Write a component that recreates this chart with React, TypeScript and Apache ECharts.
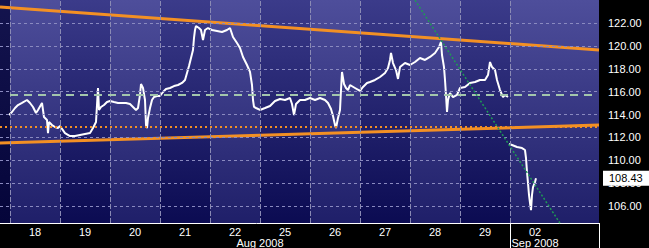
import React, { useEffect, useRef } from "react";
import * as echarts from "echarts";

// ---- axis labels ----
const dayLabels = ["18", "19", "20", "21", "22", "25", "26", "27", "28", "29", "02"];
const monthLabels = ["Aug 2008", "Sep 2008"];
const monthPositions = [5, 10.5];
const priceTicks = [106, 108, 110, 112, 114, 116, 118, 120, 122];
const minorTicks = [105, 107, 109, 111, 113, 115, 117, 119, 121, 123];

// ---- intraday price (time in trading days from 18 Aug open) ----
const tickTime = [
  -0.02, 0.04, 0.1, 0.16, 0.24, 0.34, 0.4, 0.46, 0.52, 0.56, 0.64, 0.68, 0.74, 0.76, 0.78, 0.84, 0.9, 0.96,
  1.0, 1.1, 1.2, 1.3, 1.4, 1.5, 1.6, 1.66, 1.72, 1.76, 1.78, 1.82, 1.88, 1.94,
  2.0, 2.08, 2.16, 2.24, 2.32, 2.4, 2.46, 2.52, 2.56, 2.6, 2.62, 2.66, 2.7, 2.72, 2.74, 2.76, 2.8, 2.84, 2.88, 2.94,
  3.0, 3.06, 3.12, 3.2, 3.28, 3.36, 3.44, 3.5, 3.54, 3.58, 3.62, 3.66, 3.68, 3.7, 3.72, 3.78, 3.82, 3.86, 3.9, 3.96,
  4.04, 4.14, 4.24, 4.34, 4.4, 4.46, 4.54, 4.6, 4.66, 4.74, 4.8, 4.84, 4.86, 4.88, 4.92,
  5.0, 5.1, 5.2, 5.3, 5.4, 5.5, 5.6, 5.64, 5.68, 5.72, 5.8, 5.9,
  6.0, 6.1, 6.2, 6.3, 6.36, 6.42, 6.46, 6.5, 6.52, 6.56, 6.6, 6.62, 6.64, 6.68, 6.72, 6.76, 6.8, 6.9,
  7.0, 7.06, 7.14, 7.2, 7.3, 7.4, 7.5, 7.56, 7.6, 7.62, 7.66, 7.72, 7.76, 7.8, 7.9,
  8.0, 8.1, 8.2, 8.3, 8.4, 8.5, 8.58, 8.62, 8.64, 8.68, 8.7, 8.72, 8.74, 8.76, 8.8, 8.86, 8.94,
  9.0, 9.1, 9.2, 9.3, 9.4, 9.5, 9.56, 9.6, 9.64, 9.7, 9.74, 9.8, 9.86, 9.9, 9.96,
  9.97,
  9.98, 10.04, 10.14, 10.24, 10.3, 10.32, 10.34, 10.36, 10.38, 10.4, 10.42, 10.44, 10.46, 10.5, 10.52,
];
const tickPrice: (number | null)[] = [
  113.96, 114.22, 114.57, 114.83, 115.01, 115.27, 115.01, 114.66, 114.13, 114.4, 115.01, 113.78, 113.52, 112.38, 113.35, 113.08, 112.91, 112.82,
  113.0, 112.38, 112.12, 112.12, 112.21, 112.3, 112.38, 112.82, 113.35, 116.32, 114.4, 114.66, 114.83, 115.09,
  115.18, 115.09, 115.01, 115.01, 115.01, 114.92, 114.66, 114.4, 114.57, 115.71, 116.67, 116.32, 115.27, 113.08, 112.82, 113.7, 114.57, 115.27, 115.53, 115.62,
  115.62, 115.97, 116.23, 116.32, 116.49, 116.58, 116.76, 117.02, 117.63, 118.24, 118.94, 119.64, 120.69, 121.39, 121.74, 121.56, 121.39, 120.51, 121.39, 121.56,
  121.39, 121.3, 121.21, 121.39, 121.56, 120.78, 120.25, 119.81, 119.03, 118.33, 117.72, 116.58, 115.27, 114.66, 114.57,
  114.4, 114.57, 114.75, 115.18, 115.36, 115.27, 115.44, 114.92, 113.96, 114.92, 115.27, 115.27,
  115.44, 115.27, 115.44, 115.27, 115.01, 114.48, 113.87, 113.08, 112.82, 113.7, 114.4, 116.14, 117.72, 116.67, 116.32, 116.14, 116.58, 116.32,
  116.06, 116.41, 116.76, 116.84, 117.02, 117.28, 117.63, 118.07, 118.77, 119.38, 118.5, 117.89, 117.11, 118.15, 118.5,
  118.33, 118.59, 118.94, 118.77, 119.03, 119.38, 119.9, 120.34, 119.2, 118.15, 117.02, 115.71, 114.22, 115.27, 115.88, 115.53, 115.71,
  116.32, 116.41, 116.76, 116.84, 117.02, 117.02, 117.45, 118.59, 118.15, 117.89, 117.02, 116.14, 115.53, 115.71, 115.53,
  null,
  111.42, 111.34, 111.16, 111.07, 110.9, 110.2, 108.98, 108.01, 106.97, 106.27, 105.65, 106.97, 107.66, 108.1, 108.43,
];

// ---- drawn studies ----
const upperTrend = [[-0.2, 123.4], [11.78, 119.64]];
const lowerTrend = [[-0.2, 111.51], [11.78, 113.08]];
const downTrend = [[8.1, 124.0], [11.0, 104.5]];
const supportLevel = 112.9;
const midLevel = 115.7;
const lastPrice = 108.43;

const X_MIN = -0.2;
const X_MAX = 11.78;
const Y_MIN = 104.52;
const Y_MAX = 124.01;

const FONT = "Liberation Sans, Arial, sans-serif";

export default function App() {
  const ref = useRef<HTMLDivElement>(null);

  useEffect(() => {
    if (!ref.current) return;
    const chart = echarts.init(ref.current, undefined, { renderer: "svg" });

    const grad = (a: string, b: string) =>
      new echarts.graphic.LinearGradient(0, 0, 0, 1, [
        { offset: 0, color: a },
        { offset: 1, color: b },
      ]);
    const light = grad("#4e4e9b", "#1f1f69");
    const dark = grad("#3b3b8a", "#0b0b52");
    const edge = grad("#14144e", "#05053a");

    const columns: any[] = [[{ xAxis: X_MIN, itemStyle: { color: edge } }, { xAxis: 0 }]];
    dayLabels.forEach((_, i) => {
      columns.push([
        { xAxis: i, itemStyle: { color: i % 2 === 0 ? light : dark } },
        { xAxis: i === dayLabels.length - 1 ? X_MAX : i + 1 },
      ]);
    });

    const gridLines: any[] = [];
    priceTicks.forEach((v) =>
      gridLines.push({ yAxis: v, lineStyle: { color: "#8a8ac0", width: 1, type: [3, 3] } })
    );
    for (let i = 0; i <= 10; i++) {
      gridLines.push({ xAxis: i, lineStyle: { color: "#8a8ab4", width: 1, type: [5, 2] } });
    }

    const priceData = tickTime.map((t, i) => [t, tickPrice[i] === null ? "-" : tickPrice[i]]);

    chart.setOption({
      animation: false,
      backgroundColor: "#000000",
      grid: { left: 0, right: 50, top: 0, bottom: 25 },
      xAxis: [
        {
          type: "value",
          min: X_MIN,
          max: X_MAX,
          position: "bottom",
          splitLine: { show: false },
          axisLine: { show: true, lineStyle: { color: "#ffffff", width: 1 } },
          axisTick: {
            show: true,
            customValues: [10, X_MAX],
            length: 25,
            lineStyle: { color: "#ffffff", width: 1 },
          },
          axisLabel: {
            show: true,
            customValues: dayLabels.map((_, i) => i + 0.5),
            formatter: (v: number) => dayLabels[Math.floor(v)] ?? "",
            color: "#ffffff",
            fontSize: 11,
            fontFamily: FONT,
            margin: 3,
          },
        },
        {
          type: "value",
          min: X_MIN,
          max: X_MAX,
          position: "bottom",
          splitLine: { show: false },
          axisLine: { show: false },
          axisTick: { show: false },
          axisLabel: {
            show: true,
            customValues: monthPositions,
            formatter: (v: number) => monthLabels[monthPositions.indexOf(v)] ?? "",
            color: "#ffffff",
            fontSize: 11,
            fontFamily: FONT,
            margin: 14,
          },
        },
      ],
      yAxis: [
        {
          type: "value",
          position: "right",
          min: Y_MIN,
          max: Y_MAX,
          splitLine: { show: false },
          axisLine: { show: true, lineStyle: { color: "#555555", width: 1 } },
          axisTick: {
            show: true,
            customValues: priceTicks,
            length: 8,
            lineStyle: { color: "#8c8c8c", width: 3 },
          },
          axisLabel: {
            show: true,
            customValues: priceTicks,
            formatter: (v: number) => v.toFixed(2),
            color: "#ffffff",
            fontSize: 11,
            fontFamily: FONT,
            margin: 9,
          },
        },
        {
          type: "value",
          position: "right",
          min: Y_MIN,
          max: Y_MAX,
          splitLine: { show: false },
          axisLine: { show: false },
          axisTick: {
            show: true,
            customValues: minorTicks,
            length: 4,
            lineStyle: { color: "#8c8c8c", width: 1 },
          },
          axisLabel: { show: false },
        },
      ],
      series: [
        {
          name: "background",
          type: "line",
          data: [],
          silent: true,
          z: 0,
          markArea: { silent: true, data: columns },
        },
        {
          name: "grid",
          type: "line",
          data: [],
          silent: true,
          z: 1,
          markLine: { silent: true, symbol: ["none", "none"], label: { show: false }, data: gridLines },
        },
        {
          name: "levels",
          type: "line",
          data: [],
          silent: true,
          z: 2,
          markLine: {
            silent: true,
            symbol: ["none", "none"],
            label: { show: false },
            data: [
              [
                { coord: [0, midLevel], lineStyle: { color: "#a3c6ac", width: 2, type: [8, 6] } },
                { coord: [11.7, midLevel] },
              ],
              [
                { coord: [X_MIN, supportLevel], lineStyle: { color: "#f39024", width: 2, type: [2, 3] } },
                { coord: [X_MAX, supportLevel] },
              ],
            ],
          },
        },
        {
          name: "upper",
          type: "line",
          data: upperTrend,
          symbol: "none",
          z: 3,
          lineStyle: { color: "#f39024", width: 3 },
        },
        {
          name: "lower",
          type: "line",
          data: lowerTrend,
          symbol: "none",
          z: 3,
          lineStyle: { color: "#f39024", width: 3 },
        },
        {
          name: "price",
          type: "line",
          data: priceData,
          symbol: "none",
          connectNulls: false,
          z: 4,
          lineStyle: { color: "#ffffff", width: 2 },
        },
        {
          name: "down",
          type: "line",
          data: downTrend,
          symbol: "none",
          z: 5,
          lineStyle: { color: "#1f9a55", width: 1.5, type: [2, 2] },
        },
        {
          name: "last",
          type: "line",
          data: [],
          silent: true,
          z: 10,
          markLine: {
            silent: true,
            symbol: ["none", "none"],
            lineStyle: { color: "rgba(0,0,0,0)", width: 0 },
            data: [{ yAxis: lastPrice }],
            label: {
              show: true,
              position: "end",
              formatter: lastPrice.toFixed(2),
              color: "#000000",
              backgroundColor: "#ffffff",
              fontSize: 11,
              fontFamily: FONT,
              padding: [2, 9, 2, 6],
              distance: 4,
            },
          },
        },
      ],
    });

    return () => chart.dispose();
  }, []);

  return (
    <div
      ref={ref}
      style={{ position: "absolute", left: 0, top: 0, width: 649, height: 248 }}
    />
  );
}
